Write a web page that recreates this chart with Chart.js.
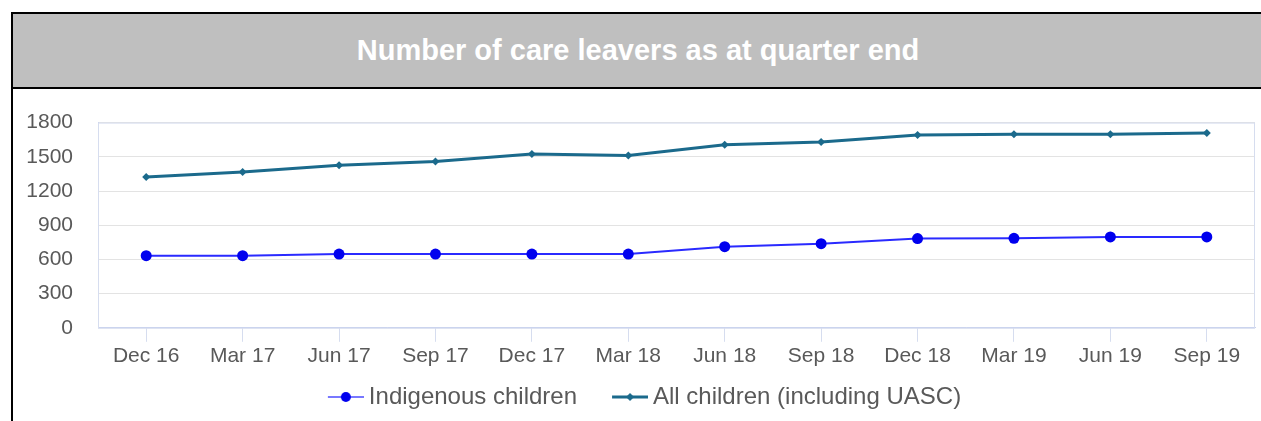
<!DOCTYPE html>
<html>
<head>
<meta charset="utf-8">
<script src="https://cdn.jsdelivr.net/npm/chart.js@4.4.0/dist/chart.umd.min.js"></script>
<style>
  html, body { margin: 0; padding: 0; background: #fff; width: 1261px; height: 421px; overflow: hidden; }
  .box { position: absolute; left: 11px; top: 12px; width: 1250px; height: 409px;
         border-left: 2px solid #000; border-top: 2px solid #000; }
  .head { height: 73px; background: #bfbfbf; border-bottom: 2px solid #000;
          color: #fff; font: bold 29px "Liberation Sans", Arial, sans-serif;
          display: flex; align-items: center; justify-content: center; }
  .chart-wrap { position: absolute; left: 0; top: 71px; width: 1248px; height: 338px; }
</style>
</head>
<body>
<div class="box">
  <div class="head">Number of care leavers as at quarter end</div>
  <div class="chart-wrap"><canvas id="leaversChart"></canvas></div>
</div>
<script>
// 数据
const quarters = ['Dec 16', 'Mar 17', 'Jun 17', 'Sep 17', 'Dec 17', 'Mar 18', 'Jun 18', 'Sep 18', 'Dec 18', 'Mar 19', 'Jun 19', 'Sep 19'];
const indigenous = [633, 633, 647, 647, 647, 647, 712, 738, 783, 785, 797, 797];
const allChildren = [1322, 1366, 1425, 1458, 1524, 1512, 1606, 1630, 1692, 1698, 1698, 1709];
const yTicks = [0, 300, 600, 900, 1200, 1500, 1800];

const tickFont = { family: "'Liberation Sans', Arial, sans-serif", size: 21 };
const tickColor = '#595959';

// 图例小图标：线 + 点（左侧留空，拉开两项间距）
const ICON_W = 50;
function legendIcon(lineColor, dotColor, style) {
    const c = document.createElement('canvas');
    c.width = ICON_W + 14; c.height = 14;
    const ctx = c.getContext('2d');
    const x0 = c.width - 36, mid = c.width - 18;
    ctx.strokeStyle = lineColor;
    ctx.lineWidth = style === 'circle' ? 2 : 3;
    ctx.beginPath(); ctx.moveTo(x0, 7); ctx.lineTo(c.width, 7); ctx.stroke();
    ctx.fillStyle = dotColor;
    ctx.beginPath();
    if (style === 'circle') {
        ctx.arc(mid, 7, 5, 0, Math.PI * 2);
    } else {
        ctx.moveTo(mid, 3); ctx.lineTo(mid + 4, 7); ctx.lineTo(mid, 11); ctx.lineTo(mid - 4, 7); ctx.closePath();
    }
    ctx.fill();
    return c;
}
const iconIndig = legendIcon('#7878ff', '#0000ee', 'circle');
const iconAll = legendIcon('#1b6a8c', '#1b6a8c', 'diamond');

// 绘图区外框
const plotFrame = {
    id: 'plotFrame',
    beforeDatasetsDraw(chart) {
        const { ctx, chartArea: a } = chart;
        ctx.save();
        ctx.strokeStyle = '#d6ddef';
        ctx.lineWidth = 1;
        ctx.strokeRect(a.left + 0.5, a.top + 0.5, a.right - a.left - 1, a.bottom - a.top);
        ctx.restore();
    }
};

new Chart(document.getElementById('leaversChart'), {
    type: 'line',
    data: {
        labels: quarters,
        datasets: [{
            label: 'Indigenous children',
            data: indigenous,
            borderColor: '#2a2aff',
            backgroundColor: '#0000ee',
            borderWidth: 2,
            pointStyle: 'circle',
            pointRadius: 5.5,
            pointBorderWidth: 0,
            tension: 0
        }, {
            label: 'All children (including UASC)',
            data: allChildren,
            borderColor: '#1b6a8c',
            backgroundColor: '#1b6a8c',
            borderWidth: 3,
            pointStyle: 'rectRot',
            pointRadius: 4,
            pointBorderWidth: 0,
            tension: 0
        }]
    },
    options: {
        responsive: true,
        maintainAspectRatio: false,
        animation: false,
        layout: { padding: { top: 5, right: 6, left: 0, bottom: 4 } },
        plugins: {
            tooltip: { enabled: false },
            legend: {
                position: 'bottom',
                labels: {
                    usePointStyle: true,
                    pointStyleWidth: ICON_W,
                    color: tickColor,
                    font: { family: "'Liberation Sans', Arial, sans-serif", size: 24 },
                    padding: 14,
                    generateLabels: (chart) => chart.data.datasets.map((ds, i) => ({
                        text: ds.label,
                        pointStyle: i === 0 ? iconIndig : iconAll,
                        fontColor: tickColor,
                        hidden: false,
                        lineWidth: 0,
                        datasetIndex: i
                    }))
                }
            }
        },
        scales: {
            x: {
                offset: true,
                grid: { display: true, drawOnChartArea: false, offset: false, tickLength: 14, color: '#d6ddef' },
                border: { display: true, color: '#c9d2ee' },
                ticks: { color: tickColor, font: tickFont, padding: 2, maxRotation: 0, autoSkip: false }
            },
            y: {
                min: 0,
                max: 1800,
                afterBuildTicks: (s) => { s.ticks = yTicks.map(v => ({ value: v })); },
                afterFit: (s) => { s.width = 85; },
                grid: { color: '#e3e3e3', drawTicks: false },
                border: { display: true, color: '#c9d2ee' },
                ticks: { color: tickColor, font: tickFont, padding: 25, callback: (v) => String(v) }
            }
        }
    },
    plugins: [plotFrame]
});
</script>
</body>
</html>
